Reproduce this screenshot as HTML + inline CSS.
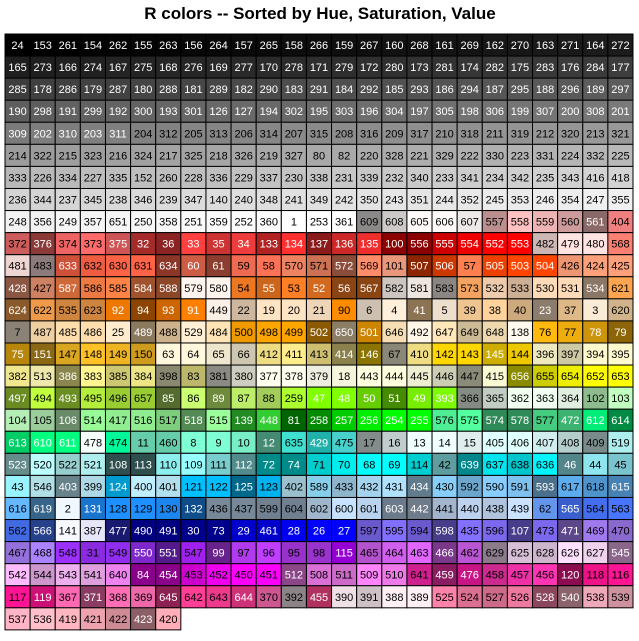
<!DOCTYPE html>
<html><head><meta charset="utf-8">
<style>
html,body{margin:0;padding:0;background:#fff;width:639px;height:641px;overflow:hidden}
svg{display:block}
text{font-family:"Liberation Sans",Arial,sans-serif}
</style></head>
<body>
<svg id="chart" width="639" height="641" viewBox="0 0 639 641">
<text x="320" y="19" text-anchor="middle" font-size="17" font-weight="bold">R colors -- Sorted by Hue, Saturation, Value</text>
<g id="cells"></g>
</svg>
<script>
// Color specs in R colors() order: [baseHex, variant1Hex or null]; 'G' = 101 gray shades
const colorSpecs = [
["FFFFFF",null],["F0F8FF",null],["FAEBD7","FFEFDB"],["7FFFD4","7FFFD4"],["F0FFFF","F0FFFF"],["F5F5DC",null],
["FFE4C4","FFE4C4"],["000000",null],["FFEBCD",null],["0000FF","0000FF"],["8A2BE2",null],["A52A2A","FF4040"],
["DEB887","FFD39B"],["5F9EA0","98F5FF"],["7FFF00","7FFF00"],["D2691E","FF7F24"],["FF7F50","FF7256"],["6495ED",null],
["FFF8DC","FFF8DC"],["00FFFF","00FFFF"],["00008B",null],["008B8B",null],["B8860B","FFB90F"],["A9A9A9",null],
["006400",null],["A9A9A9",null],["BDB76B",null],["8B008B",null],["556B2F","CAFF70"],["FF8C00","FF7F00"],
["9932CC","BF3EFF"],["8B0000",null],["E9967A",null],["8FBC8F","C1FFC1"],["483D8B",null],["2F4F4F","97FFFF"],
["2F4F4F",null],["00CED1",null],["9400D3",null],["FF1493","FF1493"],["00BFFF","00BFFF"],["696969",null],["696969",null],
["1E90FF","1E90FF"],["B22222","FF3030"],["FFFAF0",null],["228B22",null],["DCDCDC",null],["F8F8FF",null],
["FFD700","FFD700"],["DAA520","FFC125"],["BEBEBE",null],"G",["00FF00","00FF00"],["ADFF2F",null],["BEBEBE",null],"G",
["F0FFF0","F0FFF0"],["FF69B4","FF6EB4"],["CD5C5C","FF6A6A"],["FFFFF0","FFFFF0"],["F0E68C","FFF68F"],["E6E6FA",null],
["FFF0F5","FFF0F5"],["7CFC00",null],["FFFACD","FFFACD"],["ADD8E6","BFEFFF"],["F08080",null],["E0FFFF","E0FFFF"],
["EEDD82","FFEC8B"],["FAFAD2",null],["D3D3D3",null],["90EE90",null],["D3D3D3",null],["FFB6C1","FFAEB9"],
["FFA07A","FFA07A"],["20B2AA",null],["87CEFA","B0E2FF"],["8470FF",null],["778899",null],["778899",null],
["B0C4DE","CAE1FF"],["FFFFE0","FFFFE0"],["32CD32",null],["FAF0E6",null],["FF00FF","FF00FF"],["B03060","FF34B3"],
["66CDAA",null],["0000CD",null],["BA55D3","E066FF"],["9370DB","AB82FF"],["3CB371",null],["7B68EE",null],
["00FA9A",null],["48D1CC",null],["C71585",null],["191970",null],["F5FFFA",null],["FFE4E1","FFE4E1"],["FFE4B5",null],
["FFDEAD","FFDEAD"],["000080",null],["000080",null],["FDF5E6",null],["6B8E23","C0FF3E"],["FFA500","FFA500"],
["FF4500","FF4500"],["DA70D6","FF83FA"],["EEE8AA",null],["98FB98","9AFF9A"],["AFEEEE","BBFFFF"],["DB7093","FF82AB"],
["FFEFD5",null],["FFDAB9","FFDAB9"],["CD853F",null],["FFC0CB","FFB5C5"],["DDA0DD","FFBBFF"],["B0E0E6",null],
["A020F0","9B30FF"],["FF0000","FF0000"],["BC8F8F","FFC1C1"],["4169E1","4876FF"],["8B4513",null],["FA8072","FF8C69"],
["F4A460",null],["2E8B57","54FF9F"],["FFF5EE","FFF5EE"],["A0522D","FF8247"],["87CEEB","87CEFF"],["6A5ACD","836FFF"],
["708090","C6E2FF"],["708090",null],["FFFAFA","FFFAFA"],["00FF7F","00FF7F"],["4682B4","63B8FF"],["D2B48C","FFA54F"],
["D8BFD8","FFE1FF"],["FF6347","FF6347"],["40E0D0","00F5FF"],["EE82EE",null],["D02090","FF3E96"],["F5DEB3","FFE7BA"],
["F5F5F5",null],["FFFF00","FFFF00"],["9ACD32",null]
];
// Cell order (indices into colors()), row by row, 25 per row
const cellOrder = [
24,153,261,154,262,155,263,156,264,157,265,158,266,159,267,160,268,161,269,162,270,163,271,164,272,
165,273,166,274,167,275,168,276,169,277,170,278,171,279,172,280,173,281,174,282,175,283,176,284,177,
285,178,286,179,287,180,288,181,289,182,290,183,291,184,292,185,293,186,294,187,295,188,296,189,297,
190,298,191,299,192,300,193,301,126,127,194,302,195,303,196,304,197,305,198,306,199,307,200,308,201,
309,202,310,203,311,204,312,205,313,206,314,207,315,208,316,209,317,210,318,211,319,212,320,213,321,
214,322,215,323,216,324,217,325,218,326,219,327,80,82,220,328,221,329,222,330,223,331,224,332,225,
333,226,334,227,335,152,260,228,336,229,337,230,338,231,339,232,340,233,341,234,342,235,343,416,418,
236,344,237,345,238,346,239,347,140,240,348,241,349,242,350,243,351,244,352,245,353,246,354,247,355,
248,356,249,357,651,250,358,251,359,252,360,1,253,361,609,608,605,606,607,557,558,559,560,561,404,
372,376,374,373,375,32,36,33,35,34,133,134,137,136,135,100,556,555,554,552,553,482,479,480,568,
481,483,633,632,630,631,634,60,61,59,58,570,571,572,569,101,507,506,57,505,503,504,426,424,425,
428,427,587,586,585,584,588,579,580,54,55,53,52,56,567,582,581,583,573,532,533,530,531,534,621,
624,622,535,623,92,94,93,91,449,22,19,20,21,90,6,4,41,5,39,38,40,23,37,3,620,
7,487,485,486,25,489,488,529,484,500,498,499,502,650,501,646,492,647,649,648,138,76,77,78,79,
75,151,147,148,149,150,63,64,65,66,412,411,413,414,146,67,410,142,143,145,144,396,397,394,395,
382,513,386,383,385,384,398,83,381,380,377,378,379,18,443,444,445,446,447,415,656,655,654,652,653,
497,494,493,495,496,657,85,86,89,87,88,259,47,48,50,51,49,393,366,365,362,363,364,102,103,
104,105,106,514,417,516,517,518,515,139,448,81,258,257,256,254,255,576,575,574,578,577,472,612,614,
613,610,611,478,474,11,460,8,9,10,12,635,429,475,17,16,13,14,15,405,406,407,408,409,519,
523,520,522,521,108,113,110,109,111,112,72,74,71,70,68,69,114,42,639,637,638,636,46,44,45,
43,546,403,399,124,400,401,121,122,125,123,402,589,433,432,431,434,430,592,590,591,593,617,618,615,
616,619,2,131,128,129,130,132,436,437,599,604,602,600,601,603,442,441,440,438,439,62,565,564,563,
562,566,141,387,477,490,491,30,73,29,461,28,26,27,597,595,594,598,435,596,107,473,471,469,470,
467,468,548,31,549,550,551,547,99,97,96,95,98,115,465,464,463,466,462,629,625,628,626,627,545,
542,544,543,541,640,84,454,453,452,450,451,512,508,511,509,510,641,459,476,458,457,456,120,118,116,
117,119,367,371,368,369,645,642,643,644,370,392,455,390,391,388,389,525,524,527,526,528,540,538,539,
537,536,419,421,422,423,420
];

function hexToRgb(h){return [parseInt(h.slice(0,2),16),parseInt(h.slice(2,4),16),parseInt(h.slice(4,6),16)];}
const palette=[null];
colorSpecs.forEach(s=>{
  if(s==='G'){for(let i=0;i<=100;i++){const v=Math.round(i*2.55);palette.push([v,v,v]);}return;}
  palette.push(hexToRgb(s[0]));
  if(s[1]){const b=hexToRgb(s[1]);[1,238/255,205/255,139/255].forEach(f=>palette.push(b.map(c=>Math.round(c*f))));}
});

const NS='http://www.w3.org/2000/svg';
const g=document.getElementById('cells');
const x0=5,y0=34,cw=25.12,ch=22.07,ncol=25;
function xScale(col){return x0+col*cw;}
function yScale(row){return y0+row*ch;}
cellOrder.forEach((idx,k)=>{
  const col=k%ncol,row=Math.floor(k/ncol);
  const c=palette[idx]||[255,255,255];
  const grp=document.createElementNS(NS,'g');
  
  
  const r=document.createElementNS(NS,'rect');
  
  
  r.setAttribute('x',xScale(col));r.setAttribute('y',yScale(row));
  r.setAttribute('width',cw);r.setAttribute('height',ch);
  r.setAttribute('fill','rgb('+c.join(',')+')');
  r.setAttribute('stroke','#000');r.setAttribute('stroke-width','1');
  grp.appendChild(r);
  const t=document.createElementNS(NS,'text');
  
  
  t.setAttribute('x',xScale(col)+cw/2);t.setAttribute('y',yScale(row)+ch/2+4);
  t.setAttribute('text-anchor','middle');t.setAttribute('font-size','11');
  t.setAttribute('fill',(c[0]+c[1]+c[2])<384?'#fff':'#000');
  t.textContent=idx;
  grp.appendChild(t);
  g.appendChild(grp);
});
</script>
</body></html>
